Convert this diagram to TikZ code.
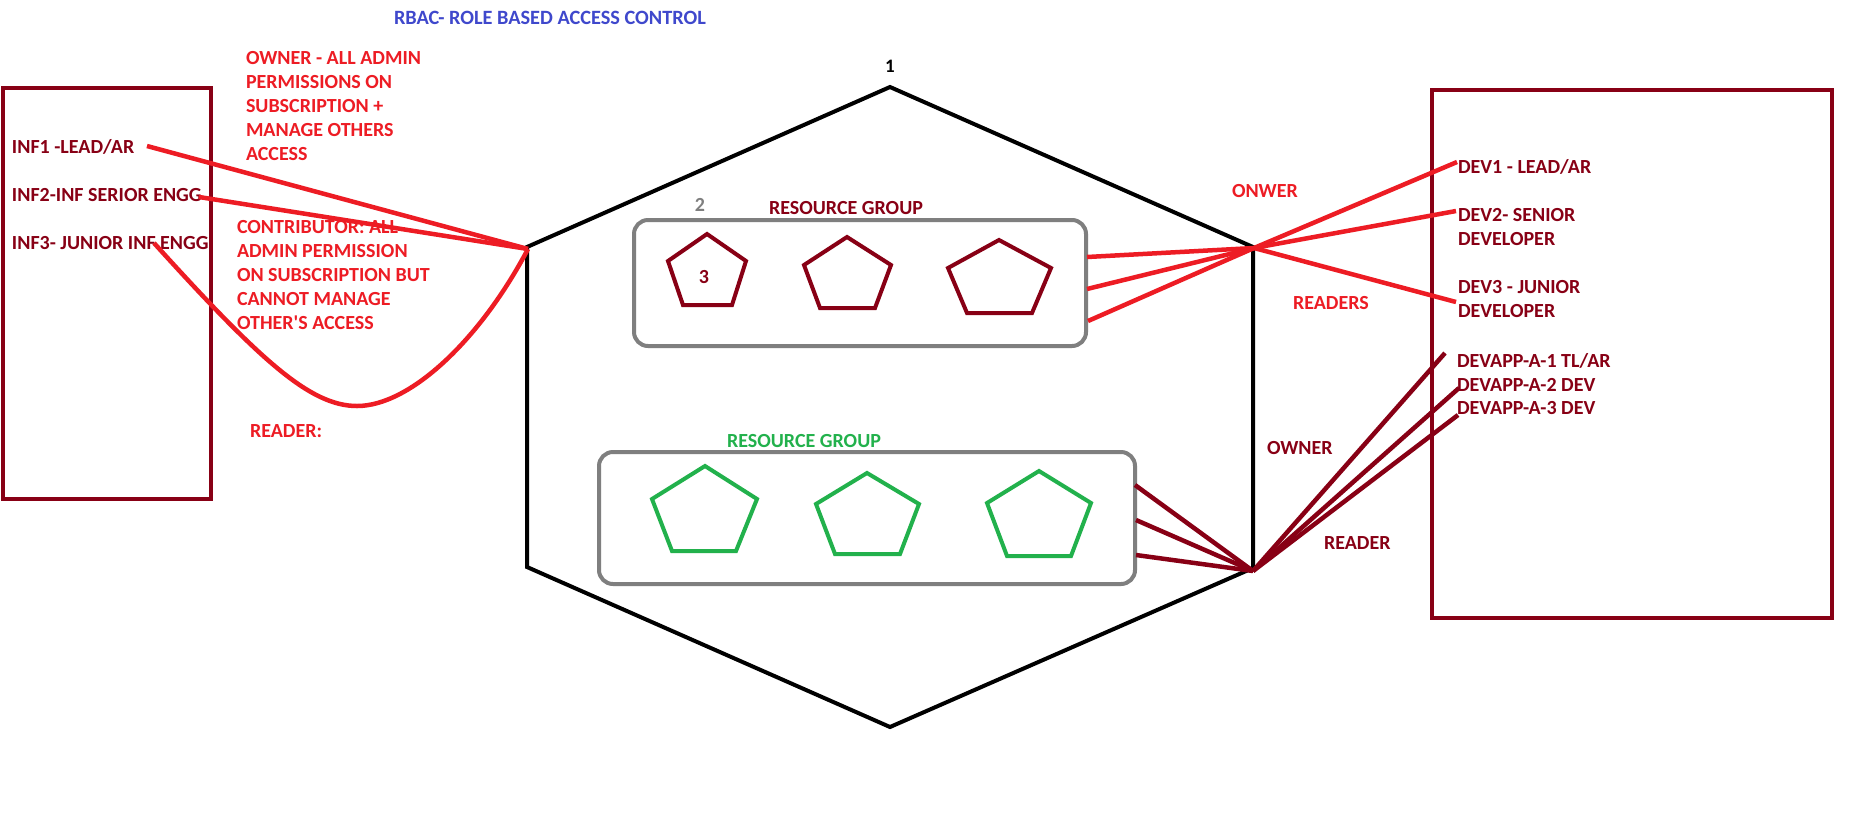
\documentclass[tikz,border=0pt]{standalone}
\usepackage{fontspec}
\setmainfont{Carlito}
\newfontfamily\calfont{Carlito}
\definecolor{dred}{HTML}{880015}
\definecolor{pred}{HTML}{ED1C24}
\definecolor{pgreen}{HTML}{22B14C}
\definecolor{pgray}{HTML}{7F7F7F}
\definecolor{pblue}{HTML}{3F48CC}
\begin{document}
\begin{tikzpicture}[x=1pt,y=-1pt,
  lbl/.style={font=\calfont\bfseries\fontsize{20}{24}\selectfont, inner sep=0pt, outer sep=0pt, align=left},
  wire/.style={line width=4.5pt, pred},
  dwire/.style={line width=4.5pt, dred},
  pent/.style={line width=4pt, dred, line join=miter},
  gpent/.style={line width=4pt, pgreen, line join=miter},
  rgbox/.style={draw=pgray, line width=4pt, rounded corners=14pt, inner sep=0pt, outer sep=0pt},
  userbox/.style={draw=dred, line width=4pt, inner sep=0pt, outer sep=0pt}]
\fill[white] (0,0) rectangle (1859,815);
\useasboundingbox (0,0) rectangle (1859,815);

% title
\node[lbl, pblue, font=\calfont\bfseries\fontsize{20.3}{24}\selectfont, anchor=base west] (title) at (394,24.5) {RBAC- ROLE BASED ACCESS CONTROL};

% user boxes
\node[userbox, minimum width=208pt, minimum height=411pt] (lbox) at (107,293.5) {};
\node[userbox, minimum width=400pt, minimum height=528pt] (rbox) at (1632,354) {};

% hexagon (subscription)
\coordinate (hT) at (890,87);
\coordinate (hUR) at (1253,247);
\coordinate (hLR) at (1253,568);
\coordinate (hB) at (890,727);
\coordinate (hLL) at (527,567);
\coordinate (hUL) at (527,247);
\draw[line width=4pt, black, line join=miter] (hT) -- (hUR) -- (hLR) -- (hB) -- (hLL) -- (hUL) -- cycle;
\node[lbl, black, font=\calfont\bfseries\fontsize{19}{23}\selectfont, anchor=base] (n1) at (890,72.5) {1};

% resource groups
\node[rgbox, minimum width=452pt, minimum height=126pt] (rg1) at (860,283) {};
\node[rgbox, minimum width=536pt, minimum height=132pt] (rg2) at (867,518) {};
\node[lbl, pgray, anchor=base] (n2) at (700,211.5) {2};
\node[lbl, dred, anchor=base] (rg1t) at (846,214.5) {RESOURCE GROUP};
\node[lbl, pgreen, anchor=base] (rg2t) at (804,447) {RESOURCE GROUP};

% resources (top group)
\draw[pent] (707,234) -- (746,261) -- (732,305) -- (683,305) -- (668,261) -- cycle;
\draw[pent] (847,237) -- (891,265) -- (875,308) -- (820,308) -- (804,265) -- cycle;
\draw[pent] (999,240) -- (1051,268) -- (1032,313) -- (967,313) -- (948,268) -- cycle;
\node[lbl, dred, anchor=base] (n3) at (704,283.5) {3};

% resources (green group)
\draw[gpent] (705,466) -- (757,499) -- (736,551) -- (672,551) -- (652,499) -- cycle;
\draw[gpent] (867,473) -- (919,504) -- (900,554) -- (835,554) -- (816,504) -- cycle;
\draw[gpent] (1039,471) -- (1091,503) -- (1071,556) -- (1007,556) -- (987,503) -- cycle;

% left users
\node[lbl, dred, anchor=base west] (inf1) at (12,153.5) {INF1 -LEAD/AR};
\node[lbl, dred, anchor=base west] (inf2) at (12,201.5) {INF2-INF SERIOR ENGG};
\node[lbl, dred, anchor=base west] (inf3) at (12,249.5) {INF3- JUNIOR INF ENGG};

% role descriptions (base = last line)
\node[lbl, pred, anchor=base west] (ownerd) at (246,160.5) {OWNER - ALL ADMIN\\PERMISSIONS ON\\SUBSCRIPTION +\\MANAGE OTHERS\\ACCESS};
\node[lbl, pred, anchor=base west] (contrd) at (237,329.5) {CONTRIBUTOR: ALL\\ADMIN PERMISSION\\ON SUBSCRIPTION BUT\\CANNOT MANAGE\\OTHER'S ACCESS};
\node[lbl, pred, anchor=base west] (readerd) at (250,437.5) {READER:};

% right users
\node[lbl, dred, anchor=base west] (dev1) at (1458,173) {DEV1 - LEAD/AR};
\node[lbl, dred, anchor=base west] (dev2) at (1458,245.5) {DEV2- SENIOR\\DEVELOPER};
\node[lbl, dred, anchor=base west] (dev3) at (1458,317.5) {DEV3 - JUNIOR\\DEVELOPER};
\node[lbl, dred, anchor=base west] (app1) at (1457,367.5) {DEVAPP-A-1 TL/AR};
\node[lbl, dred, anchor=base west] (app2) at (1457,391.5) {DEVAPP-A-2 DEV};
\node[lbl, dred, anchor=base west] (app3) at (1457,414.5) {DEVAPP-A-3 DEV};

% role labels on right
\node[lbl, pred, anchor=base west] (onwer) at (1232,197) {ONWER};
\node[lbl, pred, anchor=base west] (readers) at (1293,309) {READERS};
\node[lbl, dred, anchor=base west] (owner2) at (1267,454) {OWNER};
\node[lbl, dred, anchor=base west] (reader2) at (1324,549) {READER};

% hubs and wire ends
\coordinate (hubL) at (528,249);
\coordinate (hubR) at (1254,248);
\coordinate (hubB) at (1253,571);
\coordinate (l1) at (147,146);
\coordinate (l2) at (199,197);
\coordinate (l3) at (154,243);
\coordinate (r1) at (1457,162);
\coordinate (r2) at (1456,211);
\coordinate (r3) at (1456,302);
\coordinate (g1a) at (1087,257);
\coordinate (g1b) at (1087,289);
\coordinate (g1c) at (1088,321);
\coordinate (g2a) at (1135,485);
\coordinate (g2b) at (1136,520);
\coordinate (g2c) at (1136,555);
\coordinate (a1) at (1445,353);
\coordinate (a2) at (1459,388);
\coordinate (a3) at (1458,415);

% left wires
\draw[wire] (l1) -- (hubL);
\draw[wire] (l2) -- (hubL);
\draw[wire] (l3) .. controls (260,360) and (310,406) .. (357,406) .. controls (410,406) and (480,340) .. (hubL);

% right red wires
\draw[wire] (g1a) -- (hubR);
\draw[wire] (g1b) -- (hubR);
\draw[wire] (g1c) -- (hubR);
\draw[wire] (hubR) -- (r1);
\draw[wire] (hubR) -- (r2);
\draw[wire] (hubR) -- (r3);

% right dark red wires
\draw[dwire] (g2a) -- (hubB);
\draw[dwire] (g2b) -- (hubB);
\draw[dwire] (g2c) -- (hubB);
\draw[dwire] (hubB) -- (a1);
\draw[dwire] (hubB) -- (a2);
\draw[dwire] (hubB) -- (a3);
\end{tikzpicture}
\end{document}
